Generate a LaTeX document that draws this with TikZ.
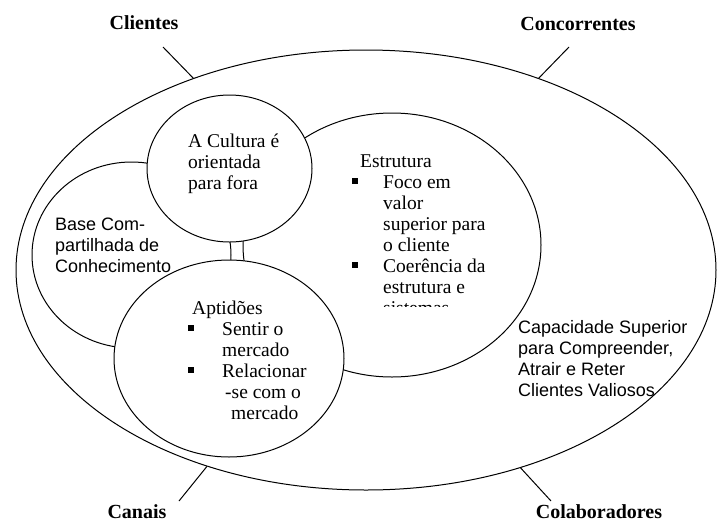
\documentclass[tikz,border=0pt]{standalone}
\usepackage{fontspec}
\setmainfont{Liberation Serif}
\newfontfamily\sansf{Liberation Sans}
\usetikzlibrary{shapes.geometric}
\newcommand\bl[1]{\makebox[#1][l]{\rule[4pt]{6pt}{6pt}}}
\tikzset{
  ring/.style={draw, ellipse, fill=white, inner sep=0pt, line width=1pt},
  body/.style={inner sep=0pt, anchor=base west, font=\fontsize{19.5}{21}\selectfont},
  sbody/.style={inner sep=0pt, anchor=base west, font=\sansf\fontsize{18}{21}\selectfont},
  lbl/.style={inner sep=0pt, anchor=base, font=\bfseries\fontsize{20}{22}\selectfont},
  tick/.style={line width=1pt},
}
\begin{document}
\begin{tikzpicture}[x=1pt,y=-1pt]
\useasboundingbox (0,0) rectangle (718,523);
% outer ellipse
\node[ring, minimum width=700pt, minimum height=440pt] (outer) at (366,270) {};
% inner shapes
\node[ring, minimum width=199pt, minimum height=186pt] (base) at (131.5,255) {};
\node[ring, minimum width=298pt, minimum height=264pt] (estr) at (392,245) {};
\node[ring, minimum width=165pt, minimum height=147pt] (cult) at (229.5,168.5) {};
\node[ring, minimum width=230pt, minimum height=197pt] (apt) at (229,358.5) {};
% corner labels and ticks
\node[lbl] (lcli) at (144,29) {Clientes};
\node[lbl] (lcon) at (578,30) {Concorrentes};
\node[lbl] (lcan) at (137,518) {Canais};
\node[lbl] (lcol) at (599,518) {Colaboradores};
\coordinate (tcli) at (163,47);
\coordinate (tcon) at (569,47);
\coordinate (tcan) at (179,501);
\coordinate (tcol) at (551,501);
\draw[tick] (tcli) -- (outer.132);
\draw[tick] (tcon) -- (outer.48);
\draw[tick] (tcan) -- (outer.231);
\draw[tick] (tcol) -- (outer.308.5);
% texts
\node[body] (tcult) at (188,147) {\begin{tabular}[t]{@{}l@{}}A Cultura é\\ orientada\\ para fora\end{tabular}};
\begin{scope}
\clip (300,100) rectangle (545,306);
\node[body] (testr) at (352,167) {\begin{tabular}[t]{@{}l@{}l@{}}
\multicolumn{2}{@{\hspace{8pt}}l@{}}{Estrutura}\\
\bl{31pt} & Foco em\\
 & valor\\
 & superior para\\
 & o cliente\\
\bl{31pt} & Coerência da\\
 & estrutura e\\
 & sistemas
\end{tabular}};
\end{scope}
\node[sbody] (tbase) at (55,230) {\begin{tabular}[t]{@{}l@{}}Base Com-\\ partilhada de\\ Conhecimento\end{tabular}};
\node[body] (tapt) at (188,314) {\begin{tabular}[t]{@{}l@{}l@{}}
\multicolumn{2}{@{\hspace{4pt}}l@{}}{Aptidões}\\
\bl{34pt} & Sentir o\\
 & mercado\\
\bl{34pt} & Relacionar\\
 & \hspace*{3pt}-se com o\\
 & \hspace*{9pt}mercado
\end{tabular}};
\node[sbody] (tcap) at (518,333) {\begin{tabular}[t]{@{}l@{}}Capacidade Superior\\ para Compreender,\\ Atrair e Reter\\ Clientes Valiosos\end{tabular}};
\end{tikzpicture}
\end{document}
